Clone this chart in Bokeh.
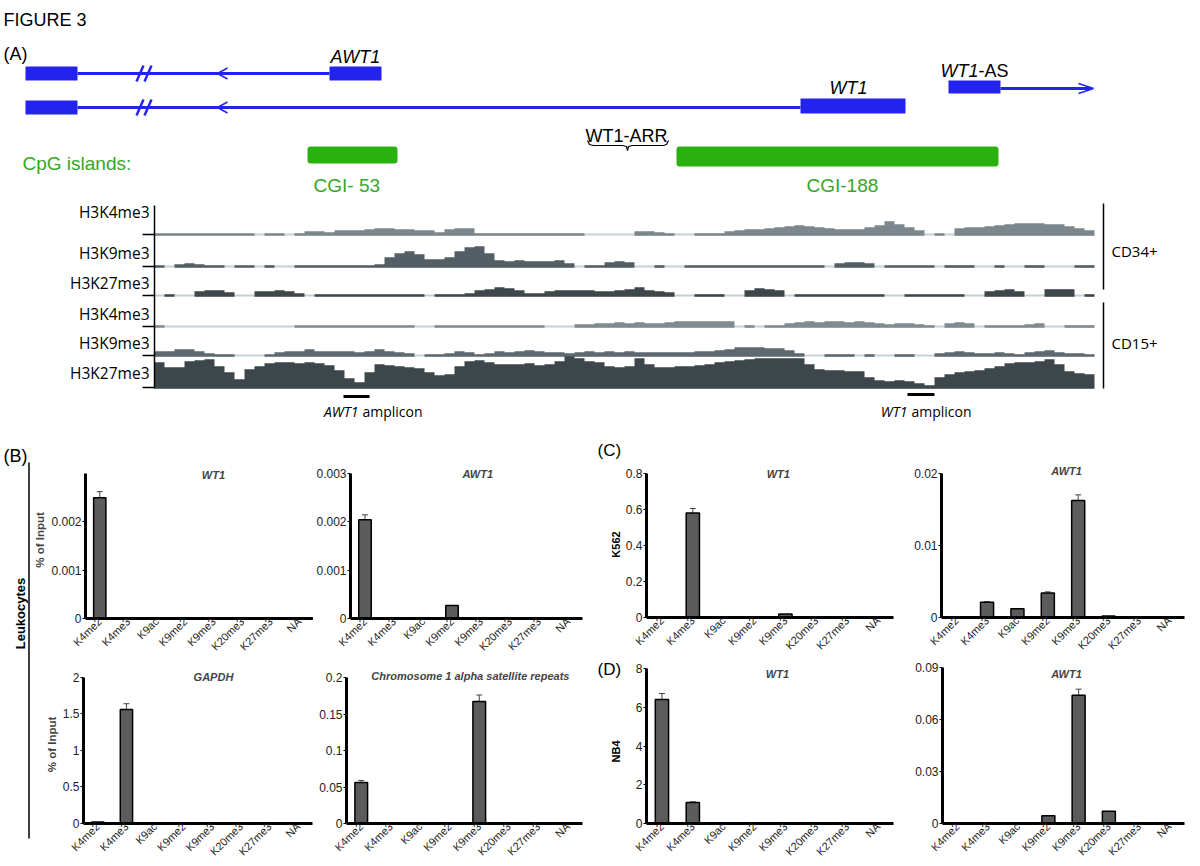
import math
from bokeh.plotting import figure
from bokeh.layouts import row, column
from bokeh.models import (Range1d, FactorRange, ColumnDataSource, Whisker, TeeHead,
                          FixedTicker, NumeralTickFormatter, Label)
from bokeh.core.properties import value
from bokeh.embed import file_html
from bokeh.resources import INLINE

N = None
# ---------------- bar chart data ----------------
CATS = ["K4me2", "K4me3", "K9ac", "K9me2", "K9me3", "K20me3", "K27me3", "NA"]

LEUK_WT1 = [0.0025, 0, 0, 0, 0, 0, 0, 0]
LEUK_WT1_ERR = [0.000125, 0, 0, 0, 0, 0, 0, 0]
LEUK_WT1_TICKS = [0, 0.001, 0.002]
LEUK_AWT1 = [0.00204, 0, 0, 0.00027, 0, 0, 0, 0]
LEUK_AWT1_ERR = [0.0001, 0, 0, 0, 0, 0, 0, 0]
LEUK_AWT1_TICKS = [0, 0.001, 0.002, 0.003]
LEUK_GAPDH = [0.02, 1.56, 0, 0, 0, 0, 0, 0]
LEUK_GAPDH_ERR = [0, 0.08, 0, 0, 0, 0, 0, 0]
LEUK_GAPDH_TICKS = [0, 0.5, 1, 1.5, 2]
LEUK_SAT = [0.056, 0, 0, 0, 0.167, 0, 0, 0]
LEUK_SAT_ERR = [0.003, 0, 0, 0, 0.009, 0, 0, 0]
LEUK_SAT_TICKS = [0, 0.05, 0.1, 0.15, 0.2]
K562_WT1 = [0, 0.58, 0, 0, 0.02, 0, 0, 0]
K562_WT1_ERR = [0, 0.025, 0, 0, 0, 0, 0, 0]
K562_WT1_TICKS = [0, 0.2, 0.4, 0.6, 0.8]
K562_AWT1 = [0, 0.0021, 0.0012, 0.0034, 0.0162, 0.0002, 0, 0]
K562_AWT1_ERR = [0, 0.0001, 0.00005, 0.00015, 0.0008, 0, 0, 0]
K562_AWT1_TICKS = [0, 0.01, 0.02]
NB4_WT1 = [6.4, 1.08, 0, 0, 0, 0, 0, 0]
NB4_WT1_ERR = [0.31, 0.04, 0, 0, 0, 0, 0, 0]
NB4_WT1_TICKS = [0, 2, 4, 6, 8]
NB4_AWT1 = [0, 0, 0, 0.0045, 0.074, 0.007, 0, 0]
NB4_AWT1_ERR = [0, 0, 0, 0, 0.0035, 0, 0, 0]
NB4_AWT1_TICKS = [0, 0.03, 0.06, 0.09]

# ---------------- histone track data (signal height per 10px bin) ----------------
TRACK_NAMES = ["H3K4me3", "H3K9me3", "H3K27me3", "H3K4me3", "H3K9me3", "H3K27me3"]
CD34_K4ME3 = [0]*10 + [N, 0, 0, N, 0] + [2, 2, 1, 3, 3, 3, 4, 5, 5, 4, 4, 3, 3, 1, 4, 5, 5] + [0]*11 + [N]*5 + \
    [2, 2, 1, 0, N, N, 0, 0, 0] + [2, 3, 4, 4, 5, 6, 7, 8, 7, 6, 5, 4, 4, 4, 6, 8, 12, 9, 6, 3] + [N, 0, N] + \
    [5, 6, 6, 7, 8, 9, 10, 10, 10, 9, 9, 7, 5, 3]
CD34_K9ME3 = [0, N, 1, 2, 1, 0, 0, N, 0, 0, N, 0, N, N, 0, 0, 0, 0, 0, 0, 0, 0, 1] + \
    [8, 12, 14, 11, 6, 6, 8, 14, 18, 19, 12, 5, 4, 5, 4, 4, 4, 5, 2] + \
    [N, 0, 0, 3, 4, 3, N, N, 0, N, N, 0] + [0]*13 + \
    [N, 2, 3, 3, 2, N, 0, 0, 0, 0, 0, N, 0, 0, 0, N, N, 0, N, N, 0, 0, N, N, N, 0, 0]
CD34_K27ME3 = [N, 0, N, N, 3, 4, 4, 2, N, N, 3, 3, 4, 3, 1, N] + [0]*11 + \
    [N, 0, 0, 0, 1, 4, 5, 7, 6, 4, 1, 1, 3, 4, 4, 4, 4, 3, 3, 4, 5, 7, 4, 3, 2, N, N, 0, 0, 0, N, N, 4, 6, 5, 4, N] + \
    [0]*9 + [N, N] + [0]*6 + [N, N, 3, 4, 5, 3, N, N, 5, 5, 5, N, 0]
CD15_K4ME3 = [0] + [N]*13 + [0]*12 + [N, N] + [0]*11 + [N, N, N] + \
    [1, 1, 2, 2, 3, 2, 3, 2, 2, 3, 4, 4, 4, 4, 4, 4] + \
    [N, 0, N, 0, 0, 2, 3, 4, 3, 4, 4, 3, 4, 3, 2, 1, 2, 2, 1, 0, N, 2, 3, 2, N, 0, 0, 0, 0, 1, 2, N, N, 0, 0, 0]
CD15_K9ME3 = [3, 3, 5, 5, 3, 1, 0, 0, N, N, N, 0, 2, 3, 3, 5, 3, 3, 3, 3, 2, 3, 5, 3, 2, 1, N, 0, 0, 1,
              3, 2, 0, 1, 3, 2, 3, 4, 3, 2, 2, 1, 2, 3, 2, 3, 2, 3, 2, 2, 2, 2, 2, 2, 3, 3, 4, 5, 7, 7,
              7, 6, 6, 4, 1, N, N, 0, 0, 0, N, 0, N, N, 0, 0, N, N, 1, 2, 3, 2, 1, 1, 2, 1, 0, 2, 3, 4,
              2, 1, 1, 0]
CD15_K27ME3 = [24, 19, 19, 25, 26, 27, 20, 14, 7, 17, 20, 23, 24, 24, 23, 24, 23, 21, 16, 8,
               4, 14, 22, 21, 20, 19, 18, 14, 11, 12, 20, 25, 26, 24, 22, 22, 22, 23, 21, 22,
               25, 30, 28, 25, 24, 20, 19, 20, 28, 22, 19, 19, 20, 20, 21, 22, 24, 25, 26, 27,
               28, 28, 28, 28, 28, 22, 17, 16, 16, 15, 15, 9, 6, 5, 6, 5, 3, 1, 9, 12,
               14, 15, 16, 18, 20, 23, 24, 24, 25, 27, 22, 15, 13, 12]
TRACKS = [CD34_K4ME3, CD34_K9ME3, CD34_K27ME3, CD15_K4ME3, CD15_K9ME3, CD15_K27ME3]

# ---------------- styles ----------------
BLUE = "#2323ee"
GREEN = "#2bb10f"
GREEN_TXT = "#35a626"
TRACK_COLORS = ["#7b878d", "#535f65", "#3d474c", "#7f8b91", "#5d696f", "#3d474b"]
BAR_FILL = "#5c5c5c"
ARIAL = "Liberation Sans"
MYRIAD = "Open Sans"


def blank(x0, x1, y0, y1):
    p = figure(width=int(x1 - x0), height=int(y1 - y0), x_range=Range1d(x0, x1), y_range=Range1d(y1, y0),
               output_backend="svg", toolbar_location=None, tools="",
               x_axis_location=None, y_axis_location=None,
               min_border_left=0, min_border_right=0, min_border_top=0, min_border_bottom=0)
    p.grid.visible = False
    p.outline_line_color = None
    p.background_fill_color = "white"
    p.border_fill_color = "white"
    return p


def T(p, x, y, s, size, color="black", style="normal", align="left", baseline="alphabetic", font=ARIAL, angle=0.0):
    p.text(x=[x], y=[y], text=[s], angle=angle, text_font=value(font), text_font_size=f"{size}px",
           text_font_style=style, text_color=color, text_align=align, text_baseline=baseline)


# ================= Panel A =================
top = blank(0, 1200, 0, 434)
T(top, 3, 19, "FIGURE 3", 18)
T(top, 3, 53, "(A)", 18)

top.quad(left=[25, 329, 25, 800, 948], right=[77, 381, 77, 905, 1000],
         top=[66, 66, 100, 98, 80], bottom=[80, 80, 114, 113, 93], fill_color=BLUE, line_color=None)
top.segment(x0=[77, 77, 1000], y0=[73, 107, 88], x1=[329, 800, 1091], y1=[73, 107, 88], line_color=BLUE, line_width=3)
top.segment(x0=[136, 144, 136, 144], y0=[81, 81, 115, 115], x1=[143, 151, 143, 151], y1=[65, 65, 99, 99],
            line_color=BLUE, line_width=2.5)
top.multi_line(xs=[[227, 217, 227], [227, 217, 227], [1078, 1093, 1078]],
               ys=[[67.5, 73, 78.5], [101.5, 107, 112.5], [83, 88, 93]], line_color=BLUE, line_width=1.5)
T(top, 330, 56, "AWT1", 18, style="italic")
T(top, 829, 87, "WT1", 18, style="italic")
T(top, 978, 70, "WT1", 18, style="italic", align="right")
T(top, 978, 70, "-AS", 18)
T(top, 585, 135, "WT1-ARR", 18)
top.multi_line(xs=[[587, 589, 593, 622, 626, 627], [627, 628, 632, 663, 666, 668]],
               ys=[[140, 144, 145, 145, 146, 150], [150, 146, 145, 145, 144, 140]], line_color="black", line_width=1.2)

top.quad(left=[307, 676], right=[397, 998], top=[146, 146], bottom=[163, 166], fill_color=GREEN, line_color=None,
         border_radius=3)
T(top, 22, 163, "CpG islands:", 19, color=GREEN_TXT)
T(top, 313, 185, "CGI- 53", 19, color=GREEN_TXT)
T(top, 806, 185, "CGI-188", 19, color=GREEN_TXT)

# tracks
BASES = [234, 266, 295, 326, 355, 387]
LABEL_Y = [211, 252, 282, 313, 342, 372]
X0, BW = 154, 10
top.segment(x0=[X0] * 6, x1=[X0 + BW * len(CD34_K4ME3)] * 6, y0=BASES, y1=BASES, line_color="#c6d0d5", line_width=2)
for vals, b, col in zip(TRACKS, BASES, TRACK_COLORS):
    xs, ys = [], []
    k, n = 0, len(vals)
    while k < n:
        if vals[k] is None:
            k += 1
            continue
        j = k
        while j < n and vals[j] is not None:
            j += 1
        px, py = [X0 + k * BW], [b + 1.3]
        for i in range(k, j):
            h = vals[i] + 1.3
            px += [X0 + i * BW, X0 + (i + 1) * BW]
            py += [b - h, b - h]
        px.append(X0 + j * BW)
        py.append(b + 1.3)
        xs.append(px)
        ys.append(py)
        k = j
    top.patches(xs, ys, fill_color=col, line_color=None)
top.segment(x0=[154], x1=[154], y0=[205], y1=[388], line_color="black", line_width=1.5)
top.segment(x0=[142] * 6, x1=[154] * 6, y0=BASES, y1=BASES, line_color="black", line_width=1.5)
for name, y in zip(TRACK_NAMES, LABEL_Y):
    T(top, 149, y, name, 15.5, align="right", baseline="middle", font=MYRIAD)
top.segment(x0=[1103, 1103], x1=[1103, 1103], y0=[203, 302], y1=[289, 388], line_color="black", line_width=1.5)
T(top, 1111, 250, "CD34+", 15, baseline="middle", font=MYRIAD)
T(top, 1111, 342, "CD15+", 15, baseline="middle", font=MYRIAD)
top.segment(x0=[343, 907], x1=[369, 934], y0=[396, 394], y1=[396, 394], line_color="black", line_width=3)
T(top, 358, 411, "AWT1", 14, style="italic", align="right", baseline="middle", font=MYRIAD)
T(top, 362, 411, "amplicon", 14, baseline="middle", font=MYRIAD)
T(top, 907, 411, "WT1", 14, style="italic", align="right", baseline="middle", font=MYRIAD)
T(top, 911, 411, "amplicon", 14, baseline="middle", font=MYRIAD)


# ================= bar charts =================
def bar_chart(vals, errs, ymax, ticks, w, h, bl, br, bt, bb, pad, title, title_x, title_dy, ylabel=None, ylab_standoff=1):
    # frame height below the axis top (pixels) -> extend range by `pad` pixels for the title
    H = h - bt - bb - pad
    yend = ymax * (H + pad) / H
    p = figure(x_range=FactorRange(factors=CATS), y_range=Range1d(0, yend), width=w, height=h,
               min_border_left=bl, min_border_right=br, min_border_top=bt, min_border_bottom=bb,
               output_backend="svg", toolbar_location=None, tools="")
    p.grid.visible = False
    p.outline_line_color = None
    keep = [i for i, v in enumerate(vals) if v > 0]
    src = ColumnDataSource(dict(x=[CATS[i] for i in keep], top=[vals[i] for i in keep]))
    p.vbar(x="x", top="top", width=0.43, source=src, fill_color=BAR_FILL, line_color="black", line_width=1.5)
    ek = [i for i in keep if errs[i] > 0]
    if ek:
        esrc = ColumnDataSource(dict(x=[CATS[i] for i in ek], up=[vals[i] + errs[i] for i in ek],
                                     lo=[vals[i] - errs[i] for i in ek]))
        p.add_layout(Whisker(source=esrc, base="x", upper="up", lower="lo", line_color="#444", line_width=1,
                             upper_head=TeeHead(size=6, line_color="#444", line_width=1),
                             lower_head=TeeHead(size=6, line_color="#444", line_width=1)))
    ya = p.yaxis[0]
    ya.bounds = (0, ymax)
    ya.ticker = FixedTicker(ticks=ticks)
    ya.formatter = NumeralTickFormatter(format="0.[000]")
    ya.axis_line_width = 3
    ya.major_tick_in = 0
    ya.major_tick_out = 3
    ya.minor_tick_line_color = None
    ya.major_label_text_font = ARIAL
    ya.major_label_text_font_size = "12px"
    ya.major_label_text_color = "#222"
    ya.major_label_standoff = 1
    if ylabel:
        ya.axis_label = ylabel
        ya.axis_label_text_font = ARIAL
        ya.axis_label_text_font_style = "bold"
        ya.axis_label_text_font_size = "11.5px"
        ya.axis_label_standoff = ylab_standoff
    xa = p.xaxis[0]
    xa.axis_line_width = 3
    xa.major_tick_line_color = None
    xa.major_tick_out = 0
    xa.major_tick_in = 0
    xa.minor_tick_line_color = None
    xa.major_label_orientation = math.pi / 4
    xa.major_label_text_font = ARIAL
    xa.major_label_text_font_size = "11px"
    xa.major_label_text_color = "#222"
    xa.major_label_standoff = 1
    p.add_layout(Label(x=title_x, y=ymax * (1 + title_dy / H), text=title, text_font=ARIAL,
                       text_font_style="bold italic", text_font_size="11px", text_align="center",
                       text_baseline="alphabetic"))
    return p


# row 1 spans y 434..660, row 2 spans y 660..866
B1 = bar_chart(LEUK_WT1, LEUK_WT1_ERR, 0.003, LEUK_WT1_TICKS, 282, 226, 52, 0, 27, 42, 12, "WT1", 4.49, -1, "% of Input", 2)
B2 = bar_chart(LEUK_AWT1, LEUK_AWT1_ERR, 0.003, LEUK_AWT1_TICKS, 271, 226, 36, 2, 26, 39, 12, "AWT1", 4.39, -1)
C1 = bar_chart(K562_WT1, K562_WT1_ERR, 0.8, K562_WT1_TICKS, 289, 226, 22, 18, 25, 43, 12, "WT1", 4.27, -1)
C2 = bar_chart(K562_AWT1, K562_AWT1_ERR, 0.02, K562_AWT1_TICKS, 289, 226, 30, 16, 27, 39, 12, "AWT1", 4.12, 2)
B3 = bar_chart(LEUK_GAPDH, LEUK_GAPDH_ERR, 2, LEUK_GAPDH_TICKS, 282, 206, 52, 1, 4, 43, 12, "GAPDH", 4.54, 0, "% of Input", 2)
B4 = bar_chart(LEUK_SAT, LEUK_SAT_ERR, 0.2, LEUK_SAT_TICKS, 271, 206, 33, 2, 5, 43, 12,
               "Chromosome 1 alpha satellite repeats", 4.2, 2)
D1 = bar_chart(NB4_WT1, NB4_WT1_ERR, 8, NB4_WT1_TICKS, 289, 206, 24, 18, 0, 43, 8, "WT1", 4.24, -5)
D2 = bar_chart(NB4_AWT1, NB4_AWT1_ERR, 0.09, NB4_AWT1_TICKS, 289, 206, 31, 16, 0, 43, 7, "AWT1", 4.1, -6)

# side strips
SL = blank(0, 31, 434, 866)
T(SL, 3, 455, "(B)", 18)
T(SL, 20, 613, "Leukocytes", 13, style="bold", align="center", baseline="middle", angle=math.pi / 2)
SL.segment(x0=[28.5], x1=[28.5], y0=[462], y1=[838], line_color="black", line_width=1.5)

SCD = blank(584, 622, 434, 866)
T(SCD, 597, 450, "(C)", 17)
T(SCD, 597, 669, "(D)", 17)
T(SCD, 615, 544, "K562", 11, style="bold", align="center", baseline="middle", angle=math.pi / 2)
T(SCD, 615, 751, "NB4", 11, style="bold", align="center", baseline="middle", angle=math.pi / 2)

bottom = row(SL, column(row(B1, B2), row(B3, B4)), SCD, column(row(C1, C2), row(D1, D2)))
page = column(top, bottom)

open("out.html", "w").write(file_html(page, INLINE))
